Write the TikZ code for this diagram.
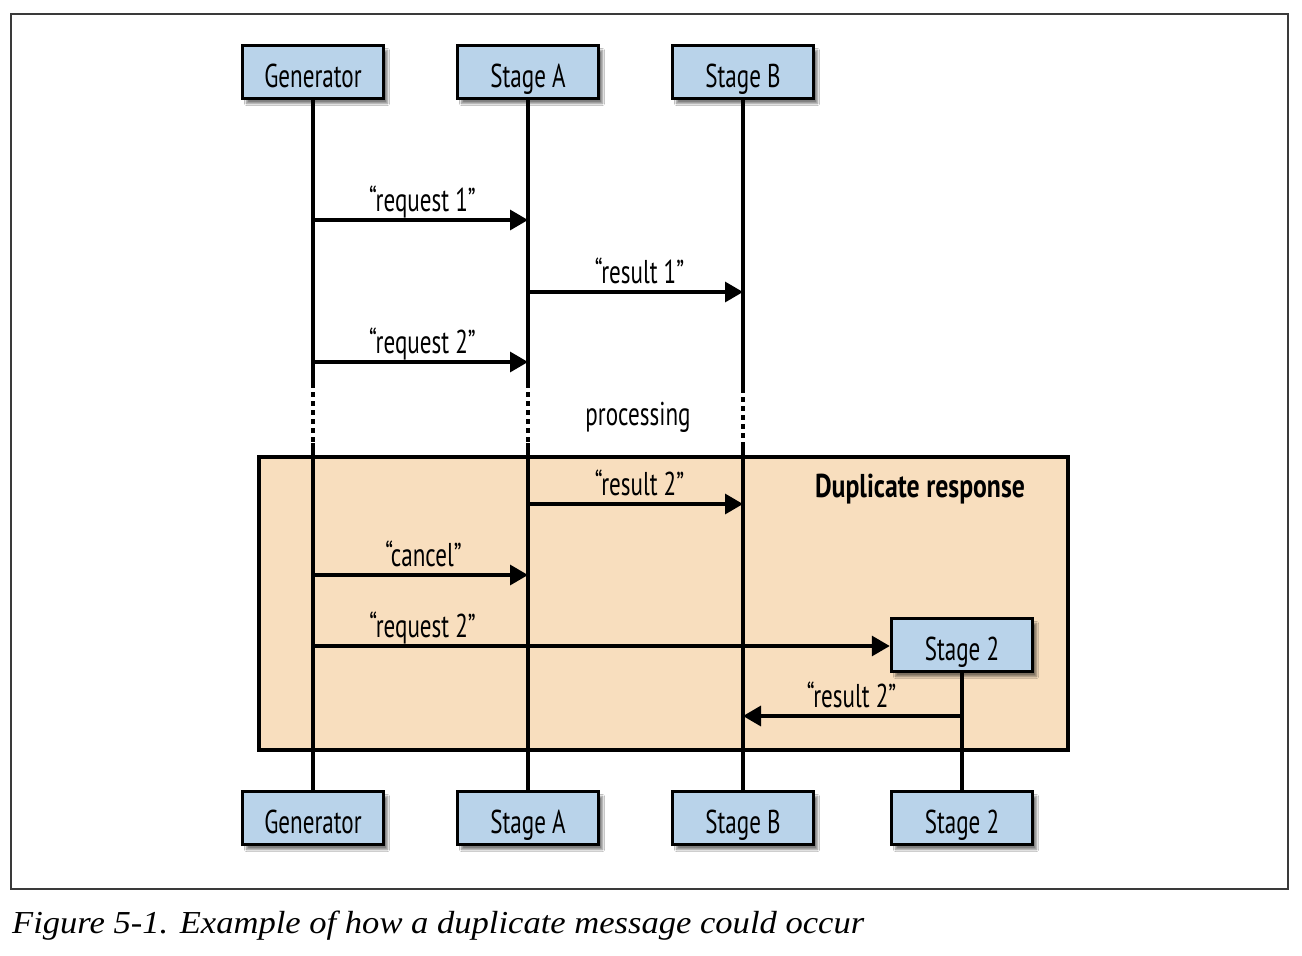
\documentclass[tikz,border=0pt]{standalone}
\usepackage{fontspec}
\setmainfont{PT Sans}[FakeStretch=0.7]
\newfontfamily\dupfont{PT Sans}[FakeStretch=0.78]
\newfontfamily\capfont{Liberation Serif}[FakeStretch=1.08]
\usetikzlibrary{arrows.meta,shadows.blur}
\definecolor{boxblue}{HTML}{B9D3EA}
\definecolor{peach}{HTML}{F8DEBE}
\definecolor{framegray}{HTML}{3A3A3A}
\tikzset{
  actor/.style={draw, line width=3.5pt, fill=boxblue, minimum width=141pt, minimum height=53pt,
    inner sep=0pt, text height=30pt, text depth=0pt, font=\fontsize{33}{36}\selectfont,
    blur shadow={shadow xshift=4pt, shadow yshift=-5pt, shadow blur steps=8, shadow opacity=50}},
  life/.style={line width=3.3pt},
  dots/.style={line width=3.3pt, dash pattern=on 5pt off 4pt},
  msg/.style={line width=3.3pt, -{Triangle[length=18pt,width=20pt]}},
  lbl/.style={anchor=base, yshift=9pt, inner sep=0pt, font=\fontsize{33}{36}\selectfont},
  txt/.style={anchor=base, inner sep=0pt, font=\fontsize{33}{36}\selectfont},
}
\begin{document}
\begin{tikzpicture}[x=1pt,y=-1pt]
\useasboundingbox (0,0) rectangle (1302,956);
\fill[white] (0,0) rectangle (1302,956);
% outer frame
\draw[framegray, line width=1.3pt] (11,14) rectangle (1288,889);
% duplicate response region
\draw[line width=3.3pt, fill=peach] (259,457) rectangle (1068,750);
\node[txt, font=\fontsize{33}{36}\dupfont\bfseries] (dup) at (920,497) {Duplicate response};

% lifeline coordinates
\coordinate (g-a) at (313,383); \coordinate (g-b) at (313,443);
\coordinate (a-a) at (528,383); \coordinate (a-b) at (528,443);
\coordinate (b-a) at (743,388); \coordinate (b-b) at (743,446);

% top and bottom boxes
\node[actor] (gen) at (313,72) {Generator};
\node[actor] (sa) at (528,72) {Stage A};
\node[actor] (sb) at (743,72) {Stage B};
\node[actor] (genB) at (313,818) {Generator};
\node[actor] (saB) at (528,818) {Stage A};
\node[actor] (sbB) at (743,818) {Stage B};
\node[actor] (s2B) at (962,818) {Stage 2};
\node[actor] (s2) at (962,645) {Stage 2};

% lifelines
\draw[life] (gen.south) -- (g-a);
\draw[dots] (g-a) -- (g-b);
\draw[life] (g-b) -- (genB.north);
\draw[life] (sa.south) -- (a-a);
\draw[dots] (a-a) -- (a-b);
\draw[life] (a-b) -- (saB.north);
\draw[life] (sb.south) -- (b-a);
\draw[dots] (b-a) -- (b-b);
\draw[life] (b-b) -- (sbB.north);
\draw[life] (s2.south) -- (s2B.north);

% message coordinates
\coordinate (m1s) at (313,220); \coordinate (m1e) at (528,220);
\coordinate (m2s) at (528,292); \coordinate (m2e) at (743,292);
\coordinate (m3s) at (313,362); \coordinate (m3e) at (528,362);
\coordinate (m4s) at (528,504); \coordinate (m4e) at (743,504);
\coordinate (m5s) at (313,575); \coordinate (m5e) at (528,575);
\coordinate (m6s) at (313,646);
\coordinate (m7s) at (962,716); \coordinate (m7e) at (743,716);

\draw[msg] (m1s) -- node[lbl, xshift=2pt] (l1) {“request 1”} (m1e);
\draw[msg] (m2s) -- node[lbl, xshift=4pt] (l2) {“result 1”} (m2e);
\draw[msg] (m3s) -- node[lbl, xshift=2pt] (l3) {“request 2”} (m3e);
\node[txt] (proc) at (638,425) {processing};
\draw[msg] (m4s) -- node[lbl, xshift=4pt] (l4) {“result 2”} (m4e);
\draw[msg] (m5s) -- node[lbl, xshift=3pt] (l5) {“cancel”} (m5e);
\draw[msg] (m6s) -- node[lbl, pos=0.19] (l6) {“request 2”} (s2.west |- m6s);
\draw[msg] (m7s) -- node[lbl, xshift=-1pt] (l7) {“result 2”} (m7e);

% caption
\node[anchor=base west, inner sep=0pt, font=\capfont\itshape\fontsize{32}{35}\selectfont] (cap) at (12,933)
  {Figure 5-1. Example of how a duplicate message could occur};
\end{tikzpicture}
\end{document}
